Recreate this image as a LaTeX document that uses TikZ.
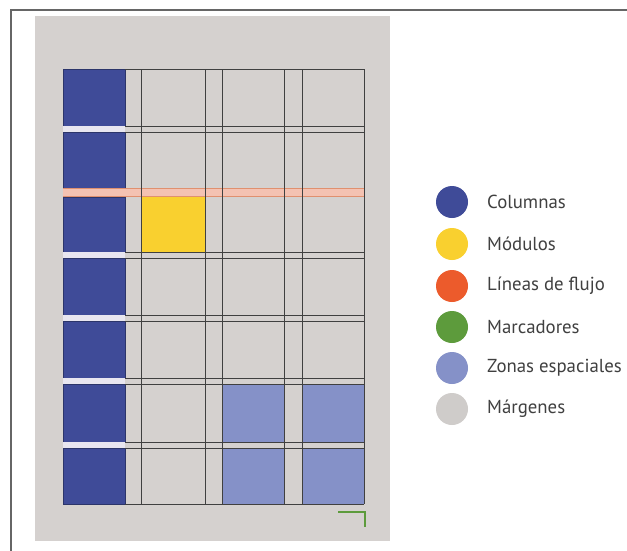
\documentclass[tikz,border=0pt]{standalone}
\usepackage{fontspec}
\setmainfont{PT Sans}
\definecolor{pagegray}{HTML}{D5D1CF}
\definecolor{colblue}{HTML}{3F4B98}
\definecolor{zoneblue}{HTML}{8591C8}
\definecolor{modyellow}{HTML}{F9D02F}
\definecolor{floworange}{HTML}{EC5B2C}
\definecolor{flowpink}{HTML}{F4C2B2}
\definecolor{flowline}{HTML}{E0906F}
\definecolor{markgreen}{HTML}{5D9B3C}
\definecolor{leggray}{HTML}{CFCCCA}
\definecolor{gapwhite}{HTML}{E8E6F0}
\definecolor{gridline}{HTML}{404040}
\begin{document}
\begin{tikzpicture}[x=1pt,y=-1pt,
  gridln/.style={draw=gridline,line width=1pt},
  dot/.style={circle,minimum size=32pt,inner sep=0pt},
  legtext/.style={anchor=west,font=\fontsize{18.8}{21}\selectfont,text=black!75,inner sep=0pt}]
\useasboundingbox (0,0) rectangle (627,550);
\fill[white] (0,0) rectangle (627,550);
% outer frame
\draw[gray!80!black,line width=1.3pt] (11,551) -- (11,10) -- (628,10);
% page
\fill[pagegray] (35,16) rectangle (390,541);
% blue column
\foreach \t/\b in {69/126,132/188,197/252,258/315,321/378,384/442,448/504}{
  \fill[colblue] (63,\t) rectangle (125,\b);
  \draw[colblue!70!black,line width=0.6pt] (63,\t) rectangle (125,\b);
}
% gaps in blue column
\foreach \t/\b in {126/132,252/258,315/321,378/384,442/448}{
  \fill[gapwhite] (63,\t) rectangle (125,\b);
}
% yellow module
\fill[modyellow] (141,197) rectangle (205,252);
% zone blue
\foreach \x/\xx in {222/284,302/364}{
  \fill[zoneblue] (\x,384) rectangle (\xx,442);
  \fill[zoneblue] (\x,448) rectangle (\xx,504);
}
% flow line
\fill[flowpink] (63,188) rectangle (364,197);
\draw[flowline,line width=1.4pt] (63,188.5) -- (364,188.5);
\draw[flowline,line width=1.4pt] (63,196.5) -- (364,196.5);
% grid horizontal lines
\foreach \y in {69,126,132,252,258,315,321,378,384,442,448,504}{
  \draw[gridln] (125,\y) -- (364,\y);
}
% grid vertical lines
\foreach \x in {141,205,222,284,302,364}{
  \draw[gridln] (\x,69) -- (\x,504);
}
% marker
\draw[markgreen,line width=1.5pt] (338,512) -- (365,512) -- (365,527);
% legend
\node[dot,fill=colblue] (c1) at (452,202) {};
\node[dot,fill=modyellow] (c2) at (452,244) {};
\node[dot,fill=floworange] (c3) at (452,286) {};
\node[dot,fill=markgreen] (c4) at (452,327) {};
\node[dot,fill=zoneblue] (c5) at (452,368) {};
\node[dot,fill=leggray] (c6) at (452,409) {};
\node[legtext] (t1) at (487,202) {Columnas};
\node[legtext] (t2) at (487,244) {Módulos};
\node[legtext] (t3) at (487,286) {Líneas de flujo};
\node[legtext] (t4) at (487,327) {Marcadores};
\node[legtext] (t5) at (487,368) {Zonas espaciales};
\node[legtext] (t6) at (487,409) {Márgenes};
\end{tikzpicture}
\end{document}
